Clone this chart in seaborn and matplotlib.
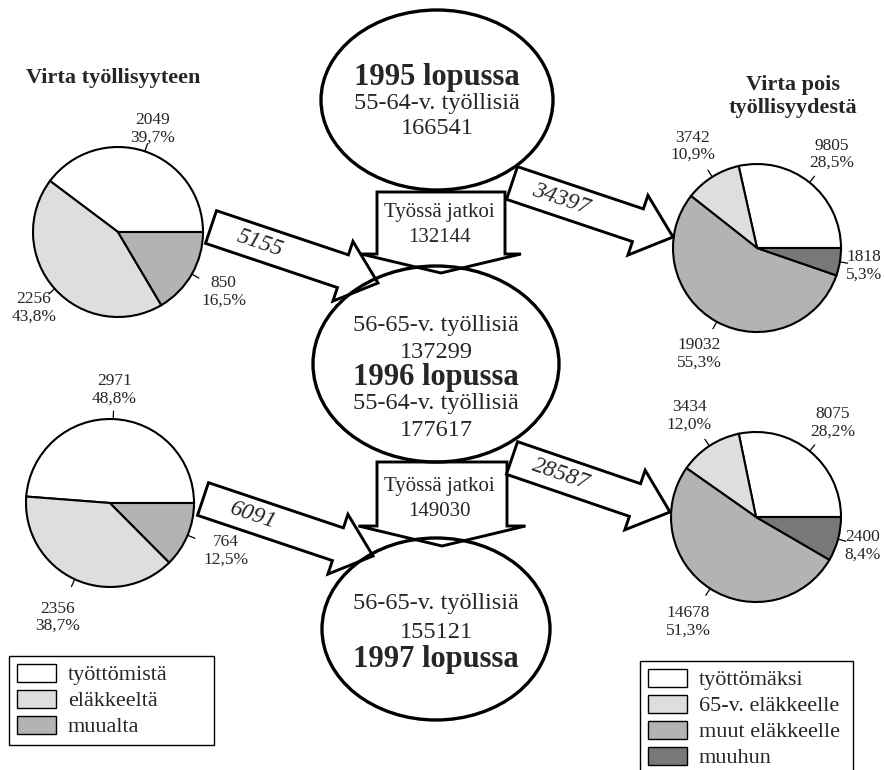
import numpy as np
import matplotlib
matplotlib.use("Agg")
import matplotlib.pyplot as plt
from matplotlib.patches import Ellipse, Polygon, Patch
import seaborn as sns

# ---------------- data ----------------
inflow_cats = ['työttömistä', 'eläkkeeltä', 'muualta']
inflow_1996 = [2049, 2256, 850]
inflow_1997 = [2971, 2356, 764]
outflow_cats = ['työttömäksi', '65-v. eläkkeelle', 'muut eläkkeelle', 'muuhun']
outflow_1996 = [9805, 3742, 19032, 1818]
outflow_1997 = [8075, 3434, 14678, 2400]
years = ['1995', '1996', '1997']
employed_5564 = [166541, 177617]   # 55-64-v. työllisiä, end of 1995 / 1996
employed_5665 = [137299, 155121]   # 56-65-v. työllisiä, end of 1996 / 1997
stayed = [132144, 149030]          # Työssä jatkoi

# ---------------- style ----------------
sns.set_theme(style='white')
plt.rcParams['font.family'] = ['Liberation Serif', 'DejaVu Serif']
grays = ['#ffffff', '#dedede', '#b3b3b3', '#787878']

W, H = 884, 770
fig = plt.figure(figsize=(W / 100, H / 100), dpi=100)
ax = fig.add_axes([0, 0, 1, 1])


def fmt_pct(v, tot):
    return f"{100 * v / tot:.1f}".replace('.', ',') + '%'


def draw_pie(values, cx, cy, r, dists):
    tot = sum(values)
    ax.pie(values, colors=grays[:len(values)], startangle=0, counterclock=False,
           center=(cx, cy), radius=r, frame=True,
           wedgeprops=dict(edgecolor='black', linewidth=1.5))
    cum = 0
    for v, f in zip(values, dists):
        phi = np.deg2rad(360 * (cum + v / 2) / tot)
        cum += v
        c, s = np.cos(phi), np.sin(phi)
        ax.plot([cx + r * c, cx + (r + 8) * c], [cy - r * s, cy - (r + 8) * s],
                color='black', lw=0.9, zorder=5)
        ax.text(cx + r * f * c, cy - r * f * s, f"{v}\n{fmt_pct(v, tot)}",
                ha='center', va='center', fontsize=12.5, linespacing=1.12, zorder=5)


def block_arrow(x0, y0, x1, y1, tail_w, head_w, head_len, z=2):
    d = np.array([x1 - x0, y1 - y0], float)
    L = np.hypot(*d)
    u = d / L
    n = np.array([-u[1], u[0]])
    p0 = np.array([x0, y0], float)
    base = p0 + u * (L - head_len)
    pts = [p0 + n * tail_w / 2, base + n * tail_w / 2, base + n * head_w / 2,
           np.array([x1, y1], float), base - n * head_w / 2, base - n * tail_w / 2,
           p0 - n * tail_w / 2]
    ax.add_patch(Polygon(pts, closed=True, facecolor='white', edgecolor='black',
                         linewidth=2.1, joinstyle='miter', zorder=z))
    return u


# pies
draw_pie(inflow_1996, 118, 232, 85, [1.28, 1.33, 1.43])
draw_pie(outflow_1996, 757, 248, 84, [1.43, 1.43, 1.44, 1.29])
draw_pie(inflow_1997, 110, 503, 84, [1.35, 1.5, 1.49])
draw_pie(outflow_1997, 756, 517, 85, [1.43, 1.43, 1.47, 1.3])

# ellipses (fill first, outline on top)
ellipses = [(437, 100, 232, 180), (436, 364, 246, 196), (436, 629, 228, 182)]
for (x, y, w, h) in ellipses:
    ax.add_patch(Ellipse((x, y), w, h, facecolor='white', edgecolor='none', zorder=1))
    ax.add_patch(Ellipse((x, y), w, h, facecolor='none', edgecolor='black',
                         linewidth=2.4, zorder=3))

# down arrows ("Työssä jatkoi")
block_arrow(441, 192, 441, 273, 128, 160, 19)
block_arrow(442, 462, 442, 546, 130, 167, 20)
for y, val in zip([213, 487], stayed):
    ax.text(439, y, 'Työssä jatkoi', ha='center', va='center', fontsize=15, zorder=6)
    ax.text(439, y + 25, str(val), ha='center', va='center', fontsize=15, zorder=6)

# flow arrows
flows = [(inflow_1996, (211, 227, 378, 283)), (outflow_1996, (512, 183, 673, 237)),
         (inflow_1997, (203, 499, 373, 556)), (outflow_1997, (512, 458, 670, 512))]
for vals, (x0, y0, x1, y1) in flows:
    u = block_arrow(x0, y0, x1, y1, 34.5, 63, 37)
    ang = -np.degrees(np.arctan2(y1 - y0, x1 - x0))
    ax.text(x0 + u[0] * 52, y0 + u[1] * 52, str(sum(vals)), ha='center', va='center',
            rotation=ang, rotation_mode='anchor', fontsize=17, style='italic', zorder=6)

# ellipse texts
reg, big = 17.5, 22
ax.text(437, 77, f'{years[0]} lopussa', ha='center', va='center', fontsize=big, fontweight='bold', zorder=6)
ax.text(437, 103, '55-64-v. työllisiä', ha='center', va='center', fontsize=reg, zorder=6)
ax.text(437, 128, str(employed_5564[0]), ha='center', va='center', fontsize=reg, zorder=6)

ax.text(436, 325, '56-65-v. työllisiä', ha='center', va='center', fontsize=reg, zorder=6)
ax.text(436, 352, str(employed_5665[0]), ha='center', va='center', fontsize=reg, zorder=6)
ax.text(436, 378, f'{years[1]} lopussa', ha='center', va='center', fontsize=big, fontweight='bold', zorder=6)
ax.text(436, 404, '55-64-v. työllisiä', ha='center', va='center', fontsize=reg, zorder=6)
ax.text(436, 430, str(employed_5564[1]), ha='center', va='center', fontsize=reg, zorder=6)

ax.text(436, 603, '56-65-v. työllisiä', ha='center', va='center', fontsize=reg, zorder=6)
ax.text(436, 632, str(employed_5665[1]), ha='center', va='center', fontsize=reg, zorder=6)
ax.text(436, 660, f'{years[2]} lopussa', ha='center', va='center', fontsize=big, fontweight='bold', zorder=6)

# titles
ax.text(113, 78, 'Virta työllisyyteen', ha='center', va='center', fontsize=16, fontweight='bold')
ax.text(793, 85, 'Virta pois', ha='center', va='center', fontsize=16, fontweight='bold')
ax.text(793, 108, 'työllisyydestä', ha='center', va='center', fontsize=16, fontweight='bold')

# legends
def make_legend(cats, x0, ytop, width):
    handles = [Patch(facecolor=grays[i], edgecolor='black', linewidth=1.0) for i in range(len(cats))]
    leg = ax.legend(handles, cats, loc='upper left',
                    bbox_to_anchor=(x0 / W, 1 - ytop / H - 0.2, width / W, 0.2),
                    mode='expand', borderaxespad=0, frameon=True, fancybox=False,
                    edgecolor='black', framealpha=1, fontsize=16, handlelength=1.75,
                    handleheight=0.85, handletextpad=0.55, labelspacing=0.2, borderpad=0.35)
    leg.get_frame().set_linewidth(1.0)
    return leg

leg1 = make_legend(inflow_cats, 9, 656, 205)
ax.add_artist(leg1)
make_legend(outflow_cats, 640, 661, 213)

ax.set_xlim(0, W)
ax.set_ylim(H, 0)
ax.set_aspect('equal')
ax.axis('off')
fig.savefig('out.png', dpi=100, facecolor='white')
